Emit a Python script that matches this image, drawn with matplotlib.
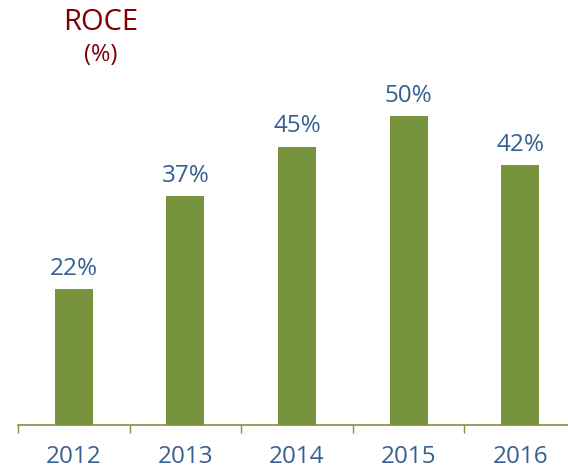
import matplotlib
matplotlib.use("Agg")
import matplotlib.pyplot as plt

years = ['2012', '2013', '2014', '2015', '2016']
roce = [22, 37, 45, 50, 42]
labels = ['22%', '37%', '45%', '50%', '42%']

bar_color = '#77933C'
text_blue = '#376092'
title_red = '#7F0000'

plt.rcParams['font.family'] = ['Open Sans', 'DejaVu Sans']

fig = plt.figure(figsize=(5.68, 4.69), dpi=100)
ax = fig.add_axes([18 / 568, 44 / 469, 558 / 568, 371 / 469])

x = range(len(years))
ax.bar(x, roce, width=0.34, color=bar_color)
for i, v in enumerate(roce):
    ax.annotate(labels[i], (i, v), xytext=(0, 6), textcoords='offset points',
                ha='center', va='bottom', color=text_blue, fontsize=17.5)

ax.set_xlim(-0.5, 4.5)
ax.set_ylim(0, 60)
for s in ['top', 'right', 'left']:
    ax.spines[s].set_visible(False)
ax.spines['bottom'].set_color(bar_color)
ax.spines['bottom'].set_linewidth(1.2)
ax.set_yticks([])
ax.set_xticks([i - 0.5 for i in range(6)])
ax.set_xticklabels([])
ax.tick_params(axis='x', length=6, width=1, color=bar_color, direction='out')
for i, y in enumerate(years):
    ax.text(i, -0.087, y, transform=ax.get_xaxis_transform(), ha='center',
            va='center', color=text_blue, fontsize=17.5)

fig.text(101 / 568, 1 - 22 / 469, 'ROCE', ha='center', va='center',
         color=title_red, fontsize=21)
fig.text(101 / 568, 1 - 55 / 469, '(%)', ha='center', va='center',
         color=title_red, fontsize=17)

fig.savefig('out.png', dpi=100)
